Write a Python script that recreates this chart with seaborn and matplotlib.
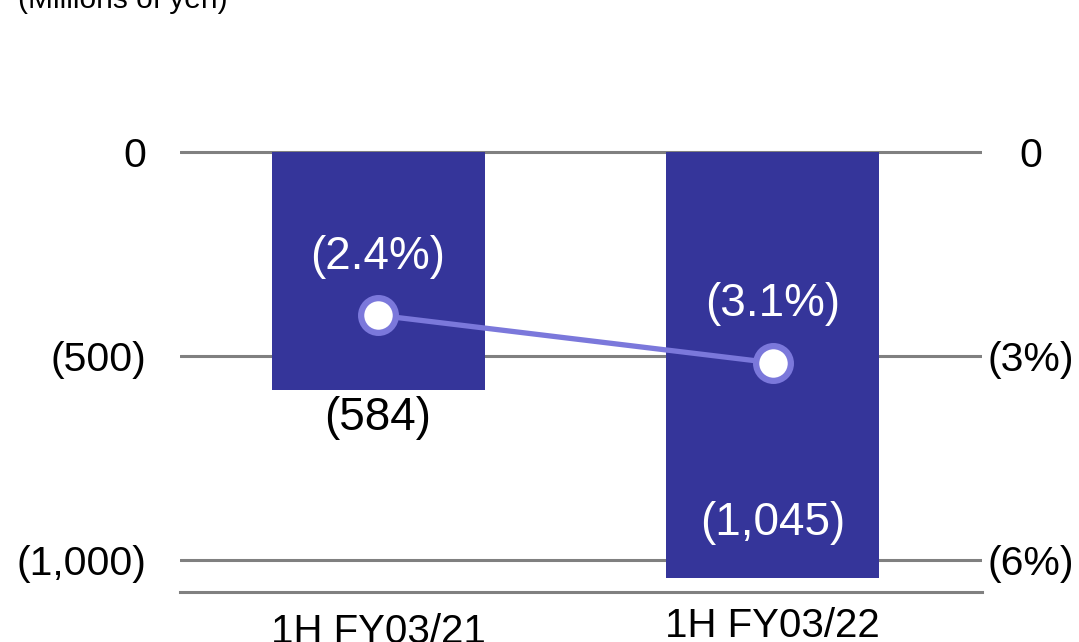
import matplotlib
matplotlib.use("Agg")
import matplotlib.pyplot as plt
from matplotlib import transforms
import seaborn as sns
import pandas as pd

# Data
periods = ["1H FY03/21", "1H FY03/22"]
operating_loss = [-584, -1045]          # millions of yen
loss_labels = ["(584)", "(1,045)"]
margin_pct = [-2.4, -3.1]               # operating margin, %
margin_labels = ["(2.4%)", "(3.1%)"]
left_ticks = [0, -500, -1000]
left_ticklabels = ["0", "(500)", "(1,000)"]
right_ticks = [0, -3, -6]
right_ticklabels = ["0", "(3%)", "(6%)"]

BAR = "#35359A"
LINE = "#7B78DB"
GRID = "#808080"

sns.set_theme(style="white")
plt.rcParams["font.family"] = ["Liberation Sans", "DejaVu Sans"]
plt.rcParams["text.color"] = "black"
plt.rcParams["xtick.color"] = "black"
plt.rcParams["ytick.color"] = "black"

W, H = 1079, 642
fig = plt.figure(figsize=(W / 100, H / 100), dpi=100)

# axes box in pixels
x0, x1 = 180, 982
y_top, y_bot = 140, 592
ax = fig.add_axes([x0 / W, (H - y_bot) / H, (x1 - x0) / W, (y_bot - y_top) / H])

df = pd.DataFrame({"period": periods, "loss": operating_loss, "margin": margin_pct})

sns.barplot(data=df, x="period", y="loss", color=BAR, width=0.54,
            saturation=1, linewidth=0, ax=ax, zorder=3)

px_per_unit = 408 / 1000
ylo = -(y_bot - 152) / px_per_unit
yhi = (152 - y_top) / px_per_unit
ax.set_ylim(ylo, yhi)
ax.set_xlim(-0.502, 1.531)

ax.set_yticks(left_ticks)
ax.set_yticklabels(left_ticklabels, fontsize=29.5)
ax.tick_params(axis="y", length=0, pad=24)
ax.set_xticks([0, 1])
ax.set_xticklabels([])
ax.tick_params(axis="x", length=0)
ax.set_xlabel("")
ax.set_ylabel("")
ax.yaxis.grid(True, color=GRID, linewidth=2.2)
ax.set_axisbelow(True)
for s in ["top", "left", "right"]:
    ax.spines[s].set_visible(False)
ax.spines["bottom"].set_color(GRID)
ax.spines["bottom"].set_linewidth(2.2)

# category labels under the axis
xform = ax.get_xaxis_transform()
for i, (name, drop) in enumerate(zip(periods, [21, 15])):
    off = transforms.ScaledTranslation(0, -drop / 100, fig.dpi_scale_trans)
    ax.text(i, 0, name, transform=xform + off, ha="center", va="top",
            fontsize=29, color="black")

# bar value labels
ax.annotate(loss_labels[0], (0, operating_loss[0]), xytext=(0, -20),
            textcoords="offset points", ha="center", va="center",
            fontsize=33, color="black")
ax.annotate(loss_labels[1], (1, operating_loss[1]), xytext=(0, 40),
            textcoords="offset points", ha="center", va="center",
            fontsize=33, color="white")

# margin line on the secondary axis
ax2 = ax.twinx()
scale = 6 / 1000
ax2.set_ylim(ylo * scale, yhi * scale)
sns.lineplot(x=[0, 1], y=df["margin"], ax=ax2, color=LINE, linewidth=3.8,
             marker="o", markersize=25, markerfacecolor="white",
             markeredgecolor=LINE, markeredgewidth=4.5, zorder=5)
ax2.set_yticks(right_ticks)
ax2.set_yticklabels(right_ticklabels, fontsize=29.5, ha="center")
ax2.tick_params(axis="y", length=0, pad=35)
ax2.set_ylabel("")
for s in ["top", "left", "right", "bottom"]:
    ax2.spines[s].set_visible(False)

for i, (v, lab) in enumerate(zip(margin_pct, margin_labels)):
    ax2.annotate(lab, (i, v), xytext=(0, 42), textcoords="offset points",
                 ha="center", va="center", fontsize=33, color="white")

fig.text(18 / W, (H - 8) / H, "(Millions of yen)", fontsize=21.5,
         ha="left", va="baseline", color="black")

fig.savefig("out.png", dpi=100)
